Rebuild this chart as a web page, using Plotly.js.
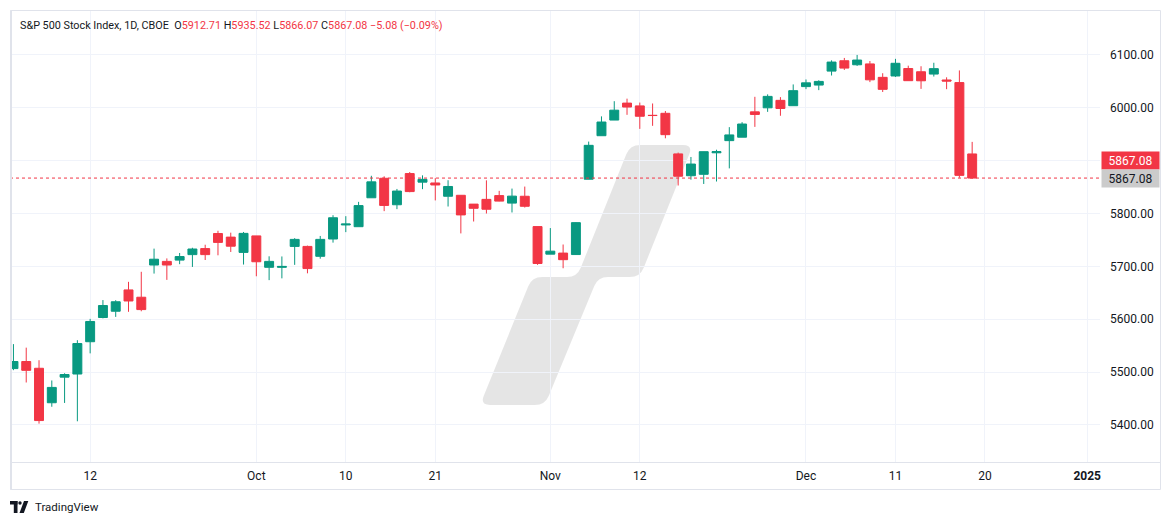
<!DOCTYPE html>
<html><head><meta charset="utf-8">
<script src="https://cdn.plot.ly/plotly-3.0.1.min.js"></script>
<style>html,body{margin:0;padding:0;background:#fff;}#chart{width:1171px;height:525px;}</style>
</head><body><div id="chart"></div>
<script>
// ---- data (S&P 500 daily) ----
const dates = ['2024-09-04','2024-09-05','2024-09-06','2024-09-09','2024-09-10','2024-09-11','2024-09-12','2024-09-13','2024-09-16','2024-09-17','2024-09-18','2024-09-19','2024-09-20','2024-09-23','2024-09-24','2024-09-25','2024-09-26','2024-09-27','2024-09-30',
'2024-10-01','2024-10-02','2024-10-03','2024-10-04','2024-10-07','2024-10-08','2024-10-09','2024-10-10','2024-10-11','2024-10-14','2024-10-15','2024-10-16','2024-10-17','2024-10-18','2024-10-21','2024-10-22','2024-10-23','2024-10-24','2024-10-25','2024-10-28','2024-10-29','2024-10-30','2024-10-31',
'2024-11-01','2024-11-04','2024-11-05','2024-11-06','2024-11-07','2024-11-08','2024-11-11','2024-11-12','2024-11-13','2024-11-14','2024-11-15','2024-11-18','2024-11-19','2024-11-20','2024-11-21','2024-11-22','2024-11-25','2024-11-26','2024-11-27','2024-11-29',
'2024-12-02','2024-12-03','2024-12-04','2024-12-05','2024-12-06','2024-12-09','2024-12-10','2024-12-11','2024-12-12','2024-12-13','2024-12-16','2024-12-17','2024-12-18','2024-12-19'];
const opens = [5506.7,5520.1,5507.3,5442.1,5490.5,5496.4,5557.5,5603.3,5615.2,5655.5,5641.7,5702.6,5709.5,5711.9,5722.3,5733.7,5762.2,5755.4,5726.5,
5757.7,5698.3,5698.2,5737.8,5737.8,5719.1,5751.8,5778.4,5775.1,5829.8,5866.7,5816.6,5875.6,5859.4,5857.8,5832.7,5834.5,5817.8,5826.8,5833.9,5819.7,5832.7,5775.3,
5723.2,5725.2,5722.4,5864.9,5947.2,5976.8,6008.9,6003.6,5985.8,5989.6,5912.8,5871.5,5874.2,5914.9,5937.9,5944.4,5992.3,6000.0,6014.1,6004.0,
6040.1,6043.0,6069.4,6089.0,6081.4,6083.0,6057.6,6060.2,6074.3,6068.2,6063.8,6052.6,6047.7,5912.71];
const highs = [5553.0,5546.3,5522.5,5484.2,5497.9,5560.4,5600.7,5636.3,5636.1,5670.8,5689.8,5733.6,5715.1,5725.4,5735.3,5741.0,5767.4,5763.8,5765.1,
5757.7,5719.1,5718.8,5753.4,5739.3,5757.6,5796.8,5795.0,5822.1,5871.4,5870.4,5846.5,5878.5,5872.2,5866.9,5863.0,5834.9,5817.8,5862.8,5842.9,5847.2,5851.0,5775.3,
5772.5,5741.4,5783.4,5936.1,5983.8,6012.5,6017.3,6009.9,6008.2,5993.9,5915.3,5907.0,5917.1,5920.7,5963.4,5972.9,6020.8,6025.4,6020.2,6044.2,
6053.6,6052.1,6089.8,6094.3,6100.0,6088.5,6065.4,6092.6,6079.7,6078.6,6085.2,6057.7,6070.7,5935.52];
const lows = [5503.7,5480.4,5402.6,5434.5,5441.7,5407.0,5535.5,5601.7,5604.5,5614.1,5615.1,5686.4,5674.5,5704.2,5699.0,5712.1,5721.0,5727.3,5703.5,
5681.3,5674.0,5677.4,5702.9,5686.9,5714.6,5745.0,5764.8,5775.1,5829.8,5804.5,5808.3,5840.3,5846.1,5824.8,5813.3,5762.4,5784.9,5800.0,5823.1,5802.0,5811.3,5702.9,
5723.2,5696.5,5722.1,5864.9,5947.2,5976.8,5986.7,5960.1,5965.9,5942.3,5853.0,5864.0,5855.9,5860.6,5885.4,5944.4,5963.9,5992.3,5984.9,6004.0,
6035.3,6033.4,6061.1,6071.6,6079.2,6048.6,6029.9,6058.3,6051.3,6035.8,6059.1,6035.2,5867.8,5866.07];
const closes = [5520.1,5503.4,5408.4,5471.1,5495.5,5554.1,5595.8,5626.0,5633.1,5634.6,5618.3,5713.6,5702.6,5718.6,5732.9,5722.3,5745.4,5738.2,5762.5,
5708.8,5709.5,5699.9,5751.1,5695.9,5751.1,5792.0,5780.1,5815.0,5859.9,5815.3,5842.5,5841.5,5864.7,5854.0,5851.2,5797.4,5809.9,5808.1,5823.5,5832.9,5813.7,5705.5,
5728.8,5712.7,5782.8,5929.0,5973.1,5995.5,6001.4,5984.0,5985.4,5949.2,5870.6,5893.6,5917.0,5917.1,5948.7,5969.3,5987.4,6021.6,5998.7,6032.4,
6047.2,6049.9,6086.5,6075.1,6090.3,6052.9,6034.9,6084.2,6051.3,6051.1,6074.1,6050.6,5872.2,5867.08];

const tickDates  = ['2024-09-12','2024-10-01','2024-10-10','2024-10-21','2024-11-01','2024-11-12','2024-12-02','2024-12-11','2024-12-20','2025-01-01'];
const tickLabels = ['12','Oct','10','21','Nov','12','Dec','11','20','<b>2025</b>'];
const priceTicks = [5400,5500,5600,5700,5800,5900,6000,6100];

const headerName = 'S&P 500 Stock Index, 1D, CBOE';
const headerChange = '\u22125.08 (\u22120.09%)';

// ---- helpers ----
const idx = dates.map((d,i)=>i);
function dateIndex(d){
  const k = dates.indexOf(d);
  if(k>=0) return k;
  let cur = new Date(dates[dates.length-1]+'T00:00:00Z'), n = dates.length-1;
  const tgt = new Date(d+'T00:00:00Z');
  while(cur < tgt){ cur = new Date(cur.getTime()+86400000); const wd=cur.getUTCDay(); if(wd!==0&&wd!==6) n++; }
  return n;
}
const tickVals = tickDates.map(dateIndex);

const UP='#089981', DN='#f23645', TXT='#131722', GRID='#f0f3fa', BORDER='#e0e3eb';
const L=10,R=1100,T=10,B=462;
const px = x => (x-L)/(R-L);
const py = y => (B-y)/(B-T);
const fmt = p => px(p[0]).toFixed(5)+','+py(p[1]).toFixed(5);
function roundedPath(pts, r){
  let d=''; const n=pts.length;
  for(let i=0;i<n;i++){
    const p0=pts[(i-1+n)%n], p1=pts[i], p2=pts[(i+1)%n];
    const v1=[p0[0]-p1[0],p0[1]-p1[1]], v2=[p2[0]-p1[0],p2[1]-p1[1]];
    const l1=Math.hypot(v1[0],v1[1]), l2=Math.hypot(v2[0],v2[1]);
    const rr=Math.min(r,l1/2,l2/2);
    const a=[p1[0]+v1[0]/l1*rr,p1[1]+v1[1]/l1*rr], b=[p1[0]+v2[0]/l2*rr,p1[1]+v2[1]/l2*rr];
    d += (i===0?'M':'L')+fmt(a)+' Q'+fmt(p1)+' '+fmt(b)+' ';
  }
  return d+'Z';
}

const last = closes.length-1;
const lastClose = closes[last];

const trace = {
  type:'candlestick', x: idx, open: opens, high: highs, low: lows, close: closes,
  increasing:{line:{color:UP,width:1}, fillcolor:UP},
  decreasing:{line:{color:DN,width:1}, fillcolor:DN},
  whiskerwidth:0, hoverinfo:'skip', showlegend:false
};

const wm = [[630,145],[693,145],[640,277],[598,277],[545,405],[480,405],[532,277],[577,277]];

const shapes = [
  {type:'path', xref:'paper', yref:'paper', path: roundedPath(wm,10), fillcolor:'rgba(0,0,0,0.1)', line:{width:0}, layer:'between'},
  {type:'line', xref:'paper', yref:'y', x0:0, x1:1, y0:lastClose, y1:lastClose, line:{color:DN,width:1,dash:'dot'}, layer:'above'},
  {type:'rect', xref:'paper', yref:'paper', x0:px(10.5), x1:px(1160.5), y0:py(489.5), y1:py(10.5), line:{color:BORDER,width:1}, layer:'above'},
  {type:'line', xref:'paper', yref:'paper', x0:px(10.5), x1:px(1160.5), y0:py(462.5), y1:py(462.5), line:{color:BORDER,width:1}, layer:'above'},
  {type:'line', xref:'paper', yref:'paper', x0:px(11), x1:px(11), y0:py(489.5), y1:py(10.5), line:{color:BORDER,width:2}, layer:'above'},
  // TradingView logo mark
  {type:'rect', xref:'paper', yref:'paper', x0:px(10), x1:px(17.5), y0:py(504.5), y1:py(501), fillcolor:TXT, line:{width:0}},
  {type:'rect', xref:'paper', yref:'paper', x0:px(13.8), x1:px(17.5), y0:py(513), y1:py(501), fillcolor:TXT, line:{width:0}},
  {type:'circle', xref:'paper', yref:'paper', x0:px(18.3), x1:px(21.7), y0:py(504.7), y1:py(501.3), fillcolor:TXT, line:{width:0}},
  {type:'path', xref:'paper', yref:'paper', path:'M'+fmt([19.5,513])+' L'+fmt([23.8,513])+' L'+fmt([28.3,501])+' L'+fmt([24,501])+' Z', fillcolor:TXT, line:{width:0}}
];

const red = s => '<span style="color:'+DN+'">'+s+'</span>';
const headerText = headerName + '&nbsp;&nbsp;O' + red(opens[last].toFixed(2)) + '&nbsp;H' + red(highs[last].toFixed(2)) +
  '&nbsp;L' + red(lows[last].toFixed(2)) + '&nbsp;C' + red(lastClose.toFixed(2)) + '&nbsp;' + red(headerChange);

const annotations = [
  {xref:'paper', yref:'paper', x:px(18), y:py(25), xanchor:'left', yanchor:'middle', showarrow:false,
   text: headerText, font:{family:'Roboto, sans-serif', size:10.8, color:TXT}},
  {xref:'paper', yref:'y', x:px(1101), y:lastClose, yshift:17.5, xanchor:'left', yanchor:'middle', showarrow:false,
   text: lastClose.toFixed(2), bgcolor:DN, width:53, height:13, borderpad:2, align:'center',
   font:{family:'Roboto, sans-serif', size:12, color:'#ffffff'}},
  {xref:'paper', yref:'y', x:px(1101), y:lastClose, xanchor:'left', yanchor:'middle', showarrow:false,
   text: lastClose.toFixed(2), bgcolor:'#cbcbcb', width:53, height:13, borderpad:2, align:'center',
   font:{family:'Roboto, sans-serif', size:12, color:TXT}},
  {xref:'paper', yref:'paper', x:px(33), y:py(507), xanchor:'left', yanchor:'middle', showarrow:false,
   text:'TradingView', font:{family:'Roboto, sans-serif', size:11.5, color:TXT}}
];

const layout = {
  width:1171, height:525,
  margin:{l:L, r:1171-R, t:T, b:525-B, pad:0},
  paper_bgcolor:'#ffffff', plot_bgcolor:'#ffffff',
  showlegend:false, hovermode:false, dragmode:false,
  boxgap:0.3, boxgroupgap:0,
  font:{family:'Roboto, sans-serif', size:12, color:TXT},
  xaxis:{type:'linear', range:[-0.27,85.0], tickvals:tickVals, ticktext:tickLabels, ticks:'',
    showgrid:true, gridcolor:GRID, gridwidth:1, zeroline:false, showline:false,
    rangeslider:{visible:false}, ticklabelstandoff:5, tickfont:{size:12,color:TXT}, fixedrange:true},
  yaxis:{side:'right', range:[5330,6185], tickvals:priceTicks, tickformat:'.2f', ticks:'',
    showgrid:true, gridcolor:GRID, gridwidth:1, zeroline:false, showline:false,
    ticklabelstandoff:9, tickfont:{size:12,color:TXT}, fixedrange:true},
  shapes: shapes, annotations: annotations
};

Plotly.newPlot('chart', [trace], layout, {displayModeBar:false, staticPlot:true});
</script>
</body></html>
